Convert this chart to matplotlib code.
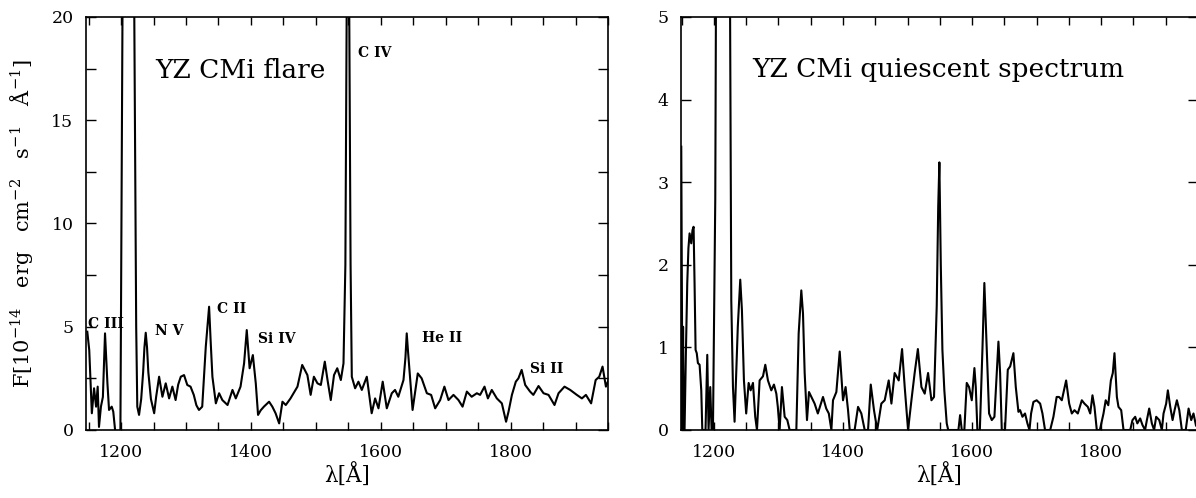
import matplotlib
matplotlib.use("Agg")
import matplotlib.pyplot as plt
from matplotlib.ticker import MultipleLocator

plt.rcParams['font.family'] = ['DejaVu Serif']
plt.rcParams['mathtext.fontset'] = 'dejavuserif'

# IUE spectrum of YZ CMi during the flare (flux in 1e-14 erg/cm2/s/A)
wl_flare = [1148, 1151, 1155, 1158.4, 1161.5, 1164, 1166, 1169, 1172, 1175.3,
            1179, 1181.5, 1185.6, 1188, 1190.8, 1195, 1199, 1202.5, 1212, 1220,
            1223.3, 1225, 1227.7, 1231, 1234, 1236, 1238, 1240, 1242, 1246,
            1251, 1254, 1258.6, 1263.7, 1268.8, 1274, 1279, 1284, 1288, 1292,
            1297, 1302, 1307, 1312, 1316, 1320, 1325, 1330.5, 1333, 1335.6,
            1338, 1340.7, 1346, 1351, 1356, 1364, 1371.6, 1376.7, 1384, 1389.5,
            1393.6, 1398, 1403, 1407.5, 1411, 1415, 1420, 1428, 1433, 1438,
            1443.5, 1448.6, 1453.7, 1461, 1466, 1471.7, 1479, 1487, 1492, 1497,
            1502.5, 1507.7, 1513.8, 1518, 1523, 1528, 1533, 1538.5, 1542.6, 1545.5,
            1547.3, 1549.3, 1551.5, 1553.5, 1555.4, 1560.5, 1565.6, 1570.8, 1578.5, 1586,
            1591.3, 1596.5, 1603, 1609.3, 1617, 1622, 1627, 1635, 1638, 1640,
            1642, 1645, 1649, 1657, 1663, 1671, 1677.6, 1683.8, 1691.5, 1698,
            1704.3, 1712, 1719.7, 1726, 1732.6, 1740, 1748, 1753, 1759.8, 1765,
            1771, 1778.8, 1786.5, 1793, 1796.8, 1802, 1808, 1812, 1817, 1822.5,
            1830, 1835, 1843, 1850.7, 1858.4, 1867.6, 1873.8, 1883, 1891.8, 1902,
            1909.8, 1916, 1924, 1931, 1936.5, 1941.6, 1946.8, 1950.8]
flux_flare = [4.76, 3.87, 0.81, 2.02, 1.13, 2.10, 0.15, 1.13, 1.60, 4.68,
              2.26, 0.97, 1.13, 0.89, 0.0, -0.3, 0.0, 22.0, 60.0, 22.0,
              5.0, 1.13, 0.73, 1.50, 2.80, 4.00, 4.71, 4.00, 2.80, 1.50,
              0.81, 1.60, 2.58, 1.61, 2.26, 1.53, 2.10, 1.45, 2.20, 2.58,
              2.66, 2.18, 2.10, 1.70, 1.20, 0.97, 1.13, 4.04, 5.00, 5.97,
              4.30, 2.58, 1.29, 1.78, 1.45, 1.21, 1.94, 1.53, 2.10, 3.23,
              4.84, 2.99, 3.63, 2.26, 0.73, 0.95, 1.13, 1.37, 1.13, 0.81,
              0.32, 1.37, 1.21, 1.53, 1.80, 2.10, 3.15, 2.66, 1.70, 2.58,
              2.26, 2.18, 3.31, 2.42, 1.45, 2.66, 2.99, 2.42, 3.23, 8.0,
              20.0, 26.0, 20.0, 8.0, 2.58, 2.02, 2.34, 1.94, 2.58, 0.81,
              1.53, 1.05, 2.34, 1.05, 1.78, 1.94, 1.61, 2.42, 3.50, 4.68,
              3.80, 2.58, 0.97, 2.74, 2.50, 1.78, 1.70, 1.05, 1.45, 2.10,
              1.45, 1.70, 1.45, 1.13, 1.86, 1.61, 1.78, 1.70, 2.10, 1.53,
              1.94, 1.53, 1.29, 0.40, 0.89, 1.70, 2.34, 2.50, 2.91, 2.18,
              1.86, 1.70, 2.13, 1.78, 1.70, 1.21, 1.78, 2.10, 1.94, 1.70,
              1.53, 1.70, 1.29, 2.42, 2.58, 3.07, 2.10, 2.42]

# quiescent spectrum, same units
wl_quiet = [1149.4, 1150.5, 1151.3, 1152.2, 1153.2, 1154.5, 1156.5, 1158.7, 1160.5, 1162.3,
            1164.9, 1166.8, 1168.5, 1170.0, 1171.6, 1173.4, 1175.2, 1177.8, 1180.4, 1182.0,
            1187.0, 1189.7, 1191.7, 1194.3, 1196.4, 1198.5, 1202.1, 1203.3, 1212.0, 1224.8,
            1226.9, 1229.5, 1232.0, 1235.0, 1237.0, 1240.8, 1243.4, 1246.5, 1250.0, 1253.8,
            1256.9, 1260.5, 1264.0, 1266.7, 1270.8, 1276.0, 1279.6, 1283.7, 1288.9, 1293.0,
            1296.7, 1299.0, 1301.8, 1305.4, 1309.6, 1313.7, 1317.3, 1327.7, 1331.3, 1335.4,
            1338.0, 1340.6, 1344.2, 1347.3, 1351.0, 1356.0, 1361.0, 1369.0, 1374.0, 1378.0,
            1382.0, 1384.5, 1389.7, 1394.9, 1400.0, 1404.0, 1407.8, 1410.4, 1418.0, 1423.3,
            1428.4, 1433.6, 1438.8, 1443.0, 1448.0, 1453.0, 1459.4, 1464.6, 1470.8, 1475.0,
            1480.0, 1486.3, 1491.5, 1495.6, 1500.8, 1506.0, 1511.0, 1516.0, 1521.5, 1526.6,
            1531.8, 1537.0, 1541.0, 1545.2, 1547.5, 1549.3, 1551.5, 1554.0, 1557.0, 1560.7,
            1563.0, 1578.8, 1581.4, 1584.0, 1588.0, 1591.7, 1595.3, 1599.5, 1603.6, 1605.7,
            1608.2, 1612.0, 1616.0, 1619.0, 1622.7, 1626.3, 1630.5, 1634.6, 1638.2, 1640.8,
            1643.4, 1646.0, 1651.0, 1655.3, 1659.0, 1664.0, 1667.7, 1671.8, 1674.4, 1678.0,
            1682.0, 1685.7, 1688.9, 1691.4, 1695.0, 1700.0, 1705.4, 1709.0, 1713.0, 1721.0,
            1726.0, 1731.0, 1734.8, 1739.0, 1745.7, 1750.4, 1754.5, 1758.6, 1763.8, 1770.0,
            1774.0, 1779.3, 1783.0, 1786.5, 1789.6, 1793.2, 1798.0, 1803.6, 1807.0, 1811.0,
            1815.0, 1818.0, 1820.6, 1824.3, 1826.8, 1831.0, 1834.6, 1845.0, 1848.5, 1852.7,
            1856.0, 1860.4, 1864.0, 1868.0, 1870.8, 1874.4, 1878.5, 1882.0, 1885.2, 1890.0,
            1894.0, 1896.6, 1900.7, 1903.3, 1907.0, 1910.6, 1913.7, 1917.3, 1921.0, 1925.0,
            1931.0, 1935.4, 1939.5, 1943.0, 1947.0, 1950.0]
flux_quiet = [3.43, 1.40, 0.0, 1.25, 0.0, 0.0, 0.90, 1.78, 2.20, 2.38,
              2.26, 2.42, 2.46, 1.78, 0.97, 0.93, 0.81, 0.79, 0.48, 0.0,
              0.0, 0.91, 0.0, 0.52, 0.0, 0.0, 2.80, 5.50, 20.0, 5.50,
              1.57, 0.52, 0.10, 0.80, 1.25, 1.82, 1.45, 0.60, 0.20, 0.57,
              0.48, 0.57, 0.16, 0.0, 0.60, 0.65, 0.79, 0.60, 0.48, 0.55,
              0.44, 0.28, 0.0, 0.52, 0.16, 0.12, 0.0, 0.0, 1.17, 1.69,
              1.41, 0.69, 0.12, 0.46, 0.40, 0.32, 0.20, 0.40, 0.26, 0.20,
              0.0, 0.36, 0.46, 0.95, 0.36, 0.52, 0.24, 0.0, 0.0, 0.28,
              0.20, 0.0, 0.0, 0.55, 0.24, 0.0, 0.32, 0.36, 0.60, 0.32,
              0.69, 0.60, 0.98, 0.52, 0.0, 0.36, 0.69, 0.98, 0.52, 0.44,
              0.69, 0.36, 0.40, 1.50, 2.70, 3.24, 2.00, 0.97, 0.48, 0.08,
              0.0, 0.0, 0.18, 0.0, 0.0, 0.57, 0.52, 0.36, 0.75, 0.52,
              0.0, 0.0, 0.97, 1.78, 0.97, 0.20, 0.12, 0.16, 0.69, 1.07,
              0.69, 0.0, 0.0, 0.73, 0.77, 0.93, 0.52, 0.22, 0.24, 0.16,
              0.20, 0.08, 0.0, 0.20, 0.34, 0.36, 0.32, 0.20, 0.0, 0.0,
              0.16, 0.40, 0.40, 0.36, 0.60, 0.32, 0.20, 0.24, 0.20, 0.36,
              0.32, 0.28, 0.20, 0.42, 0.28, 0.0, 0.0, 0.20, 0.36, 0.30,
              0.60, 0.69, 0.93, 0.40, 0.28, 0.24, 0.0, 0.0, 0.12, 0.16,
              0.08, 0.14, 0.06, 0.0, 0.12, 0.26, 0.08, 0.0, 0.16, 0.12,
              0.0, 0.20, 0.32, 0.48, 0.28, 0.12, 0.24, 0.36, 0.24, 0.0,
              0.0, 0.26, 0.12, 0.20, 0.05, 0.10]

# emission line identifications in the flare spectrum: (label, wavelength, flux)
line_ids = ["C III", "N V", "C II", "Si IV", "C IV", "He II", "Si II"]
line_x = [1149, 1252, 1348, 1411, 1565, 1664, 1830]
line_y = [4.94, 4.60, 5.67, 4.21, 18.06, 4.26, 2.76]

W, H = 1196, 498
fig = plt.figure(figsize=(W / 100, H / 100), dpi=100)
ax1 = fig.add_axes([86 / W, 1 - 430 / H, 522 / W, 413 / H])
ax2 = fig.add_axes([681 / W, 1 - 430 / H, 517 / W, 413 / H])


def style_axis(ax, xmin, ymax, ymajor, yminor):
    ax.set_xlim(xmin, 1950)
    ax.set_ylim(0, ymax)
    ax.xaxis.set_major_locator(MultipleLocator(200))
    ax.xaxis.set_minor_locator(MultipleLocator(50))
    ax.yaxis.set_major_locator(MultipleLocator(ymajor))
    if yminor:
        ax.yaxis.set_minor_locator(MultipleLocator(yminor))
    ax.tick_params(which='both', direction='in', top=True, right=True,
                   width=1.0, labelsize=12.5)
    ax.tick_params(axis='x', which='both', length=6, pad=10)
    ax.tick_params(axis='y', which='both', length=7.5, pad=9)
    for s in ax.spines.values():
        s.set_linewidth(1.2)
    ax.set_xlabel('λ[Å]', fontsize=15.5, labelpad=2)


ax1.plot(wl_flare, flux_flare, color='black', lw=1.5)
style_axis(ax1, 1146, 20, 5, 2.5)
ax1.set_ylabel('F[10$^{-14}$   erg   cm$^{-2}$   s$^{-1}$   Å$^{-1}$]', fontsize=15, labelpad=12)
ax1.text(1252, 17.05, 'YZ CMi flare', fontsize=19)
for lab, x, y in zip(line_ids, line_x, line_y):
    ax1.text(x, y, lab, fontsize=10, fontweight='bold')

ax2.plot(wl_quiet, flux_quiet, color='black', lw=1.5)
style_axis(ax2, 1149, 5, 1, None)
ax2.text(1259, 4.27, 'YZ CMi quiescent spectrum', fontsize=19)

fig.savefig('out.png', dpi=100)
